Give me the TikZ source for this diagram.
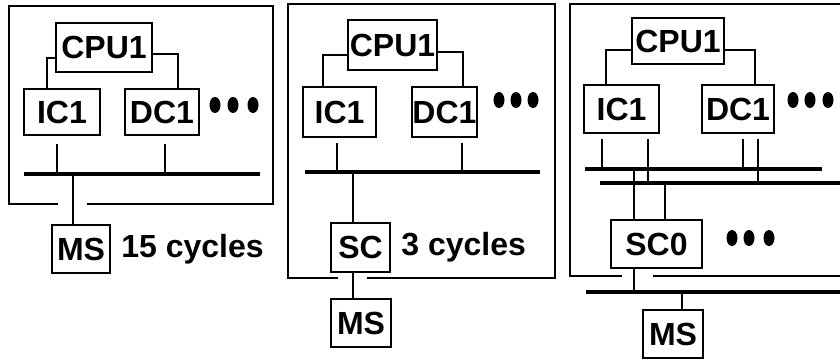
\documentclass[tikz,border=0pt]{standalone}
\usepackage{fontspec}
\setmainfont{Liberation Sans}
\usetikzlibrary{positioning}

\begin{document}
\begin{tikzpicture}[x=0.5pt, y=-0.5pt,
  box/.style={draw, line width=1pt, inner sep=0pt, text centered,
              font=\bfseries\fontsize{16}{19}\selectfont},
  lbl/.style={inner sep=0pt, font=\bfseries\fontsize{16}{19}\selectfont},
  wire/.style={line width=1pt},
  bus/.style={line width=1.6pt},
  frm/.style={line width=1pt},
  blob/.style={fill=black}]

  \useasboundingbox (0,0) rectangle (840,361);

  % Panel 1: caches straight to memory
  \draw[frm] (58,204) -- (9,204) -- (9,6) -- (273,6) -- (273,204) -- (87,204);
  \node[box, minimum width=48pt, minimum height=24.5pt] (cpuA) at (104,47.5) {CPU1};
  \node[box, minimum width=38pt, minimum height=23pt] (icA) at (62,112) {IC1};
  \node[box, minimum width=37pt, minimum height=23pt] (dcA) at (162,112) {DC1};
  \node[box, minimum width=29pt, minimum height=24pt] (msA) at (81,249) {MS};
  \node[lbl, right=5pt of msA] (cycA) {15 cycles};
  \fill[blob] (215,105) ellipse [x radius=5.5, y radius=8]
              (233,105) ellipse [x radius=5.5, y radius=8]
              (253,105) ellipse [x radius=5.5, y radius=8];

  \coordinate (busA1) at (24,174);
  \coordinate (busA2) at (260,174);
  \draw[bus] (busA1) -- (busA2);

  \draw[wire] ([yshift=-5pt]cpuA.west) -| ([xshift=-7.5pt]icA.north);
  \draw[wire] ([yshift=-3pt]cpuA.east) -| ([xshift=8pt]dcA.north);
  \draw[wire, shorten <=4pt] ([xshift=-2.5pt]icA.south) -- ([xshift=-2.5pt]icA.south |- busA1);
  \draw[wire, shorten <=4pt] ([xshift=1.5pt]dcA.south) -- ([xshift=1.5pt]dcA.south |- busA1);
  \draw[wire] ([xshift=-4pt]msA.north |- busA1) -- ([xshift=-4pt]msA.north);

  % Panel 2: one shared cache
  \draw[frm] (338,278) -- (288,278) -- (288,4) -- (555,4) -- (555,278) -- (367,278);
  \node[box, minimum width=44.5pt, minimum height=25pt] (cpuB) at (392.5,45) {CPU1};
  \node[box, minimum width=36.5pt, minimum height=25pt] (icB) at (339.5,112) {IC1};
  \node[box, minimum width=31.5pt, minimum height=25pt] (dcB) at (444.5,112) {DC1};
  \node[box, minimum width=29.5pt, minimum height=24.5pt] (scB) at (360.5,247.5) {SC};
  \node[box, minimum width=30pt, minimum height=24pt] (msB) at (361,323) {MS};
  \node[lbl, right=5pt of scB] (cycB) {3 cycles};
  \fill[blob] (499,100) ellipse [x radius=5.5, y radius=8]
              (516,100) ellipse [x radius=5.5, y radius=8]
              (533,100) ellipse [x radius=5.5, y radius=8];

  \coordinate (busB1) at (305,172);
  \coordinate (busB2) at (540,172);
  \draw[bus] (busB1) -- (busB2);

  \draw[wire] ([yshift=-5pt]cpuB.west) -| ([xshift=-8.25pt]icB.north);
  \draw[wire] ([yshift=-3.5pt]cpuB.east) -| ([xshift=9.25pt]dcB.north);
  \draw[wire, shorten <=2.5pt] ([xshift=-1.25pt]icB.south) -- ([xshift=-1.25pt]icB.south |- busB1);
  \draw[wire, shorten <=2.5pt] ([xshift=8.75pt]dcB.south) -- ([xshift=8.75pt]dcB.south |- busB1);
  \draw[wire] ([xshift=-3.75pt]scB.north |- busB1) -- ([xshift=-3.75pt]scB.north);
  \draw[wire] ([xshift=-3.75pt]scB.south) -- ([xshift=-3.75pt]scB.south |- msB.north);

  % Panel 3: split buses, several caches
  \draw[frm] (622,276) -- (570,276) -- (570,4) -- (840,4);
  \draw[frm] (653,276) -- (840,276);
  \node[box, minimum width=46pt, minimum height=23pt] (cpuC) at (678,41) {CPU1};
  \node[box, minimum width=37.5pt, minimum height=24pt] (icC) at (621.5,109) {IC1};
  \node[box, minimum width=36pt, minimum height=24pt] (dcC) at (738,109) {DC1};
  \node[box, minimum width=45.5pt, minimum height=24pt] (scC) at (656.5,244) {SC0};
  \node[box, minimum width=30pt, minimum height=24pt] (msC) at (673,334) {MS};
  \fill[blob] (793,100) ellipse [x radius=5.5, y radius=8]
              (810,100) ellipse [x radius=5.5, y radius=8]
              (828,100) ellipse [x radius=5.5, y radius=8];
  \fill[blob] (732,238) ellipse [x radius=5.5, y radius=8]
              (749,238) ellipse [x radius=5.5, y radius=8]
              (769,238) ellipse [x radius=5.5, y radius=8];

  \coordinate (busC1) at (585,169);
  \coordinate (busC2) at (822,169);
  \coordinate (busD1) at (600,183);
  \coordinate (busD2) at (840,183);
  \coordinate (busE1) at (586,292);
  \coordinate (busE2) at (840,292);
  \draw[bus] (busC1) -- (busC2);
  \draw[bus] (busD1) -- (busD2);
  \draw[bus] (busE1) -- (busE2);

  \draw[wire] ([yshift=-4.5pt]cpuC.west) -| ([xshift=-7.75pt]icC.north);
  \draw[wire] ([yshift=-4.5pt]cpuC.east) -| ([xshift=8.5pt]dcC.north);
  \draw[wire, shorten <=2.5pt] ([xshift=-9.75pt]icC.south) -- ([xshift=-9.75pt]icC.south |- busC1);
  \draw[wire, shorten <=2.5pt] ([xshift=13.25pt]icC.south) -- ([xshift=13.25pt]icC.south |- busD1);
  \draw[wire, shorten <=2.5pt] ([xshift=2.5pt]dcC.south) -- ([xshift=2.5pt]dcC.south |- busC1);
  \draw[wire, shorten <=2.5pt] ([xshift=10pt]dcC.south) -- ([xshift=10pt]dcC.south |- busD1);
  \draw[wire] ([xshift=-11.25pt]scC.north |- busC1) -- ([xshift=-11.25pt]scC.north);
  \draw[wire] ([xshift=4.25pt]scC.north |- busD1) -- ([xshift=4.25pt]scC.north);
  \draw[wire] ([xshift=-11.25pt]scC.south) -- ([xshift=-11.25pt]scC.south |- busE1);
  \draw[wire] ([xshift=4.5pt]msC.north |- busE1) -- ([xshift=4.5pt]msC.north);

\end{tikzpicture}
\end{document}
